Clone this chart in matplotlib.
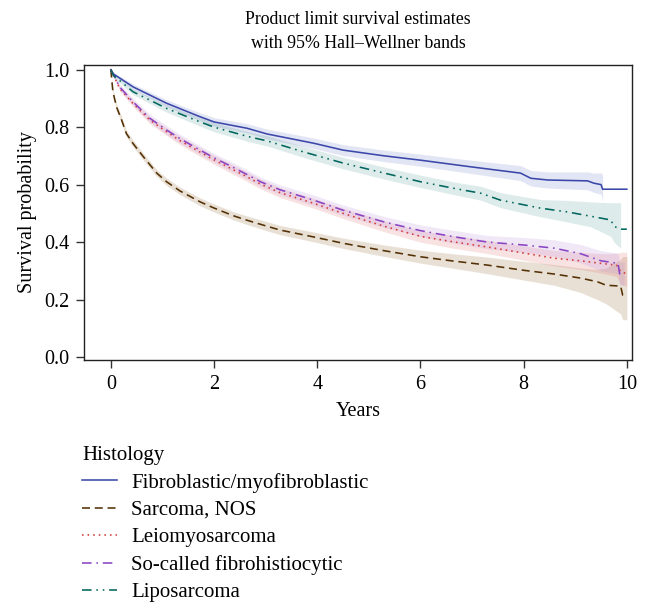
import numpy as np
import matplotlib
matplotlib.use('Agg')
import matplotlib.pyplot as plt

plt.rcParams['font.family'] = ['Liberation Serif', 'DejaVu Serif']
plt.rcParams['font.size'] = 12

nan = np.nan

# Fibroblastic/myofibroblastic
t_fib = [0, 0.05, 0.43, 1.08, 1.73, 2.0, 2.64, 3.03, 3.93, 4.5, 5.3, 6.0, 6.97, 7.94, 8.14, 8.47, 9.24, 9.36, 9.50, 9.53, 10.0]
s_fib = [1.0, 0.985, 0.94, 0.883, 0.836, 0.818, 0.796, 0.776, 0.744, 0.72, 0.70, 0.685, 0.662, 0.64, 0.622, 0.616, 0.613, 0.605, 0.60, 0.584, 0.584]
lo_fib = [1.0, 0.98, 0.93, 0.871, 0.822, 0.803, 0.78, 0.759, 0.726, 0.701, 0.68, 0.664, 0.639, 0.614, 0.595, 0.588, 0.582, 0.573, 0.567, 0.54, nan]
hi_fib = [1.0, 0.99, 0.95, 0.895, 0.85, 0.833, 0.812, 0.793, 0.762, 0.739, 0.72, 0.706, 0.685, 0.666, 0.649, 0.644, 0.644, 0.64, 0.641, 0.635, nan]

# Sarcoma, NOS
t_nos = [0, 0.04, 0.11, 0.21, 0.3, 0.43, 0.63, 0.89, 1.08, 1.34, 1.73, 1.98, 2.37, 2.64, 3.03, 3.28, 3.93, 4.5, 5.3, 6.0, 6.6, 7.3, 8.0, 8.59, 9.1, 9.43, 9.6, 9.88, 9.92, 10.0]
s_nos = [1.0, 0.923, 0.87, 0.824, 0.778, 0.743, 0.697, 0.64, 0.61, 0.578, 0.54, 0.52, 0.492, 0.476, 0.455, 0.442, 0.418, 0.396, 0.37, 0.349, 0.335, 0.32, 0.302, 0.289, 0.275, 0.262, 0.25, 0.247, 0.215, 0.21]
lo_nos = [1.0, 0.913, 0.859, 0.812, 0.766, 0.731, 0.685, 0.628, 0.597, 0.565, 0.526, 0.506, 0.478, 0.461, 0.439, 0.426, 0.401, 0.378, 0.35, 0.327, 0.31, 0.29, 0.268, 0.25, 0.225, 0.2, 0.185, 0.15, 0.13, 0.13]
hi_nos = [1.0, 0.933, 0.881, 0.836, 0.79, 0.755, 0.709, 0.652, 0.623, 0.591, 0.554, 0.534, 0.506, 0.491, 0.471, 0.458, 0.435, 0.414, 0.39, 0.372, 0.36, 0.348, 0.333, 0.322, 0.31, 0.305, 0.31, 0.34, 0.35, 0.35]

# Leiomyosarcoma
t_leio = [0, 0.17, 0.43, 0.76, 1.08, 1.34, 1.73, 1.98, 2.37, 2.64, 2.9, 3.28, 3.93, 4.5, 5.3, 6.0, 6.6, 7.3, 8.0, 8.59, 9.1, 9.5, 9.8, 9.88, 10.0]
s_leio = [1.0, 0.935, 0.882, 0.824, 0.784, 0.753, 0.713, 0.688, 0.652, 0.627, 0.602, 0.572, 0.535, 0.50, 0.455, 0.42, 0.402, 0.383, 0.362, 0.344, 0.335, 0.326, 0.32, 0.297, 0.29]
lo_leio = [1.0, 0.926, 0.871, 0.812, 0.771, 0.739, 0.698, 0.673, 0.636, 0.611, 0.585, 0.555, 0.518, 0.482, 0.436, 0.40, 0.38, 0.36, 0.337, 0.317, 0.305, 0.292, 0.28, 0.255, 0.245]
hi_leio = [1.0, 0.944, 0.893, 0.836, 0.797, 0.767, 0.728, 0.703, 0.668, 0.643, 0.619, 0.589, 0.552, 0.518, 0.474, 0.44, 0.424, 0.406, 0.387, 0.371, 0.365, 0.36, 0.36, 0.365, 0.365]

# So-called fibrohistiocytic
t_fh = [0, 0.17, 0.43, 0.76, 1.08, 1.34, 1.73, 1.98, 2.37, 2.64, 2.9, 3.28, 3.93, 4.5, 5.3, 6.0, 6.6, 7.3, 8.0, 8.59, 9.1, 9.5, 9.83, 9.86, 9.95]
s_fh = [1.0, 0.94, 0.888, 0.83, 0.79, 0.76, 0.72, 0.695, 0.66, 0.635, 0.61, 0.582, 0.546, 0.511, 0.47, 0.44, 0.42, 0.40, 0.39, 0.379, 0.36, 0.335, 0.326, 0.29, 0.29]
lo_fh = [1.0, 0.93, 0.876, 0.816, 0.775, 0.745, 0.705, 0.68, 0.644, 0.619, 0.594, 0.565, 0.528, 0.493, 0.451, 0.42, 0.398, 0.377, 0.364, 0.35, 0.328, 0.30, 0.29, 0.25, 0.25]
hi_fh = [1.0, 0.95, 0.9, 0.844, 0.805, 0.775, 0.735, 0.71, 0.676, 0.651, 0.626, 0.599, 0.564, 0.529, 0.489, 0.46, 0.442, 0.423, 0.416, 0.408, 0.392, 0.37, 0.362, 0.33, 0.33]

# Liposarcoma
t_lipo = [0, 0.05, 0.43, 1.08, 1.73, 2.0, 2.64, 3.03, 3.73, 4.5, 5.3, 6.0, 6.65, 7.17, 7.55, 8.33, 8.85, 9.3, 9.69, 9.75, 9.88, 10.0]
s_lipo = [1.0, 0.98, 0.923, 0.865, 0.818, 0.80, 0.768, 0.752, 0.714, 0.675, 0.64, 0.61, 0.587, 0.57, 0.546, 0.518, 0.505, 0.49, 0.477, 0.455, 0.445, 0.445]
lo_lipo = [1.0, 0.972, 0.913, 0.852, 0.803, 0.784, 0.751, 0.734, 0.695, 0.655, 0.619, 0.59, 0.565, 0.546, 0.52, 0.488, 0.47, 0.453, 0.42, 0.40, 0.379, nan]
hi_lipo = [1.0, 0.988, 0.933, 0.878, 0.833, 0.816, 0.785, 0.77, 0.733, 0.695, 0.661, 0.633, 0.609, 0.594, 0.572, 0.548, 0.545, 0.54, 0.537, 0.537, 0.537, nan]

labels = ['Fibroblastic/myofibroblastic', 'Sarcoma, NOS', 'Leiomyosarcoma',
          'So-called fibrohistiocytic', 'Liposarcoma']
line_colors = ['#3B48AA', '#543005', '#D33A3A', '#8A45C4', '#01665E']
band_colors = ['#6F7EC8', '#A9865B', '#E07070', '#B689D8', '#66A5A0']
band_alpha = [0.2, 0.25, 0.2, 0.2, 0.22]
styles = ['-', (0, (5, 3)), (0, (1, 2.5)), (0, (6, 3, 1, 3)), (0, (6, 3, 1, 3, 1, 3))]

series = [
    (t_fib, s_fib, lo_fib, hi_fib),
    (t_nos, s_nos, lo_nos, hi_nos),
    (t_leio, s_leio, lo_leio, hi_leio),
    (t_fh, s_fh, lo_fh, hi_fh),
    (t_lipo, s_lipo, lo_lipo, hi_lipo),
]

fig = plt.figure(figsize=(6.48, 6.03), dpi=100)
ax = fig.add_axes([84/648, 1 - 360/603, (632-84)/648, (360-65)/603])

for (t, s, lo, hi), bc, a in zip(series, band_colors, band_alpha):
    ax.fill_between(t, lo, hi, color=bc, alpha=a, lw=0)

handles = []
for (t, s, lo, hi), lc, ls, lab in zip(series, line_colors, styles, labels):
    h, = ax.plot(t, s, color=lc, ls=ls, lw=1.15, label=lab)
    handles.append(h)

ax.set_xlim(-0.52, 10.1)
ax.set_ylim(-0.01, 1.016)
ax.set_xticks([0, 2, 4, 6, 8, 10])
ax.set_yticks([0.0, 0.2, 0.4, 0.6, 0.8, 1.0])
ax.set_yticklabels(['0.0', '0.2', '0.4', '0.6', '0.8', '1.0'])
ax.tick_params(direction='out', length=5.5, width=1, labelsize=14.5, color='#333333', pad=5)
for sp in ax.spines.values():
    sp.set_linewidth(1.0)
    sp.set_color('#222222')
ax.set_xlabel('Years', fontsize=14.5, labelpad=6)
ax.set_ylabel('Survival probability', fontsize=14.5, labelpad=5)
ax.set_title('Product limit survival estimates\nwith 95% Hall\u2013Wellner bands',
             fontsize=12.8, pad=12, linespacing=1.6)

leg = fig.legend(handles=handles, labels=labels, loc='upper left',
                 bbox_to_anchor=(82/648, 1 - 446/603), frameon=False,
                 title='Histology', alignment='left', fontsize=15,
                 title_fontsize=15, handlelength=1.7, handletextpad=0.65,
                 labelspacing=0.37, borderpad=0, borderaxespad=0)

fig.savefig('out.png', dpi=100)
